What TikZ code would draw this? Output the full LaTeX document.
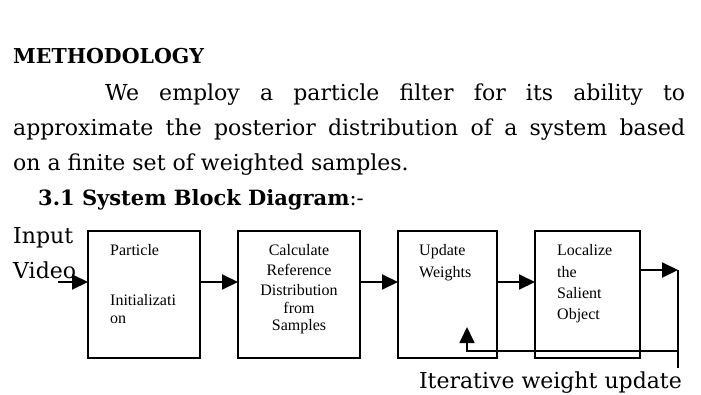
\documentclass[tikz,border=0pt]{standalone}
\usepackage{fontspec}
\setmainfont{DejaVu Serif}
\newfontfamily\boxfont{Liberation Serif}
\usetikzlibrary{arrows.meta,positioning}

\begin{document}
\begin{tikzpicture}[>={Triangle[length=16pt,width=15pt]},x=1pt,y=-1pt,node distance=38pt,
  box/.style={draw,line width=1.4pt,minimum height=127pt,inner sep=0pt,outer sep=0pt},
  boxtxt/.style={font=\boxfont\fontsize{16}{19}\selectfont,anchor=base west,inner sep=0pt},
  body/.style={font=\fontsize{22}{26}\selectfont,anchor=base west,inner sep=0pt},
  flow/.style={->,line width=2pt}]
\useasboundingbox[fill=white] (0,0) rectangle (701,394);
% text above the diagram
\node[body,font=\bfseries\fontsize{20.5}{26}\selectfont] (title) at (13,63) {METHODOLOGY};
\node[body] (para1) at (105,100) {\makebox[580pt][s]{We employ a particle filter for its ability to}};
\node[body] (para2) at (13,135) {\makebox[672pt][s]{approximate the posterior distribution of a system based}};
\node[body] (para3) at (13,170) {on a finite set of weighted samples.};
\node[body,font=\fontsize{21}{26}\selectfont] (head) at (38,205) {\textbf{3.1 System Block Diagram}:-};
\node[body] (input) at (13,243) {Input};
\node[body] (video) at (13,278) {Video};
% blocks
\node[box,minimum width=112pt] (init) at (144,294.5) {};
\node[box,minimum width=122pt,right=of init] (refdist) {};
\node[box,minimum width=99pt,right=of refdist] (update) {};
\node[box,minimum width=105pt,right=of update] (localize) {};
\node[boxtxt] (init1) at (110,255) {Particle};
\node[boxtxt] (init2) at (110,305) {Initializati};
\node[boxtxt] (init3) at (110,323) {on};
\foreach \t/\y [count=\i] in {Calculate/255,Reference/275,Distribution/295,from/313,Samples/330}
  \node[boxtxt,anchor=base] (ref\i) at (299,\y) {\t};
\node[boxtxt] (upd1) at (419,255) {Update};
\node[boxtxt] (upd2) at (419,277) {Weights};
\foreach \t/\y [count=\i] in {Localize/255,the/277,Salient/298,Object/319}
  \node[boxtxt] (loc\i) at (557,\y) {\t};
% connectors
\coordinate (vin) at (58,282);
\coordinate (vout) at (678,270);
\coordinate (vend) at (678,368);
\coordinate (fbstart) at (678,351);
\coordinate (fbtip) at (467,327);
\draw[flow] (vin) -- ([yshift=12.5pt]init.west);
\draw[flow] ([yshift=12.5pt]init.east) -- ([yshift=12.5pt]refdist.west);
\draw[flow] ([yshift=12.5pt]refdist.east) -- ([yshift=12.5pt]update.west);
\draw[flow] ([yshift=12.5pt]update.east) -- ([yshift=12.5pt]localize.west);
\draw[flow] ([yshift=24.5pt]localize.east) -- (vout);
\draw[line width=1.7pt] (vout) -- (vend);
\draw[->,line width=1.7pt] (fbstart) -| (fbtip);
\node[body,anchor=base east] (loop) at (682,388) {Iterative weight update};
\end{tikzpicture}
\end{document}
